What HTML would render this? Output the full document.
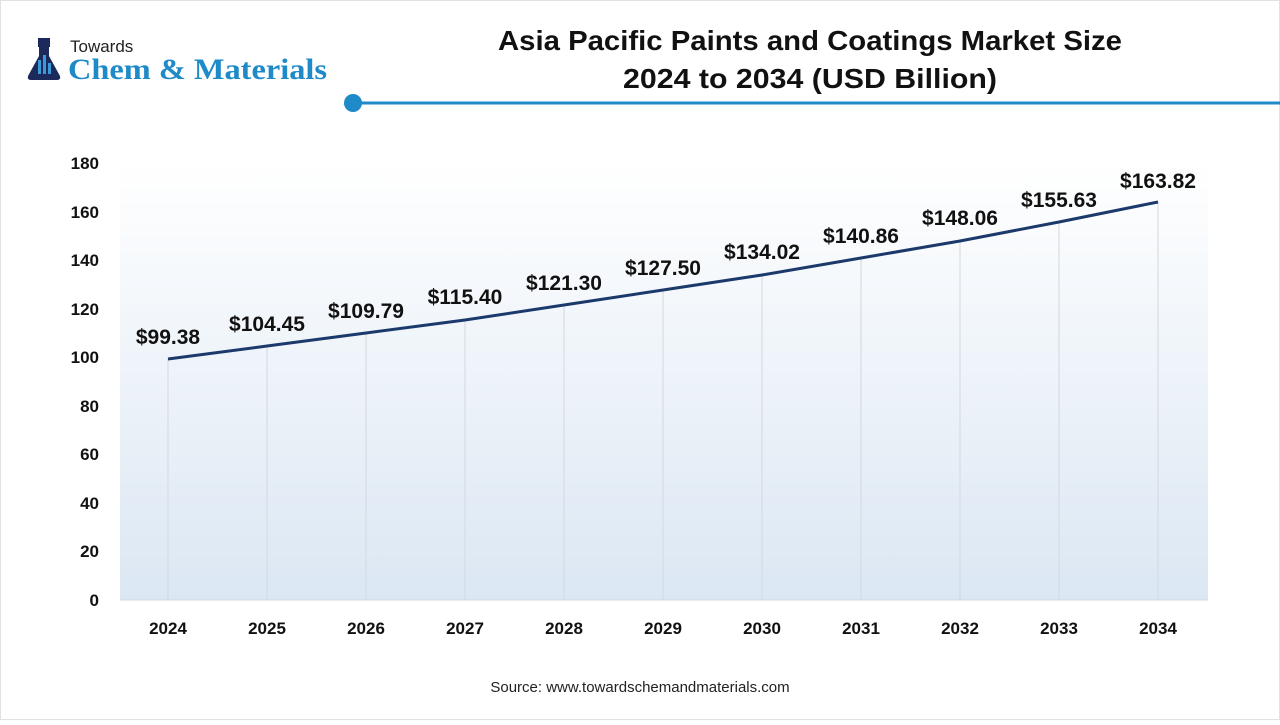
<!DOCTYPE html>
<html><head><meta charset="utf-8"><style>
html,body{margin:0;padding:0;background:#fff;}
body{width:1280px;height:720px;overflow:hidden;font-family:"Liberation Sans",sans-serif;}
</style></head><body>
<svg width="1280" height="720" viewBox="0 0 1280 720" xmlns="http://www.w3.org/2000/svg" font-family="Liberation Sans, sans-serif">
<defs>
<linearGradient id="bg" x1="0" y1="0" x2="0" y2="1">
<stop offset="0" stop-color="#ffffff"/>
<stop offset="1" stop-color="#dbe7f3"/>
</linearGradient>
</defs>
<rect x="0.5" y="0.5" width="1279" height="719" fill="#fff" stroke="#e2e2e2"/>
<g>
<rect x="38" y="38" width="12" height="9" fill="#1b2a5a"/>
<path d="M39 47 L49 47 L49 56 L60 76 Q61 80 57 80 L31 80 Q27 80 28 76 L39 56 Z" fill="#1b2a5a"/>
<rect x="38" y="60" width="3" height="14" fill="#3a9ad9"/>
<rect x="43" y="55" width="3" height="19" fill="#3a9ad9"/>
<rect x="48" y="63" width="3" height="11" fill="#3a9ad9"/>
<text x="70" y="52" font-size="17" fill="#222">Towards</text>
<text x="68" y="79" font-size="30" font-family="Liberation Serif, serif" font-weight="bold" fill="#1e8ac7" textLength="259" lengthAdjust="spacingAndGlyphs">Chem &amp; Materials</text>
</g>
<text x="810" y="50" font-size="28" font-weight="bold" text-anchor="middle" fill="#111" textLength="624" lengthAdjust="spacingAndGlyphs">Asia Pacific Paints and Coatings Market Size</text>
<text x="810" y="88" font-size="28" font-weight="bold" text-anchor="middle" fill="#111" textLength="374" lengthAdjust="spacingAndGlyphs">2024 to 2034 (USD Billion)</text>
<line x1="353" y1="103" x2="1280" y2="103" stroke="#1e8ac7" stroke-width="3"/>
<circle cx="353" cy="103" r="9" fill="#1e8ac7"/>
<rect x="120" y="160" width="1088" height="440" fill="url(#bg)"/>
<line x1="120" y1="600" x2="1208" y2="600" stroke="#cfd8e2" stroke-width="1"/>
<g font-size="17" font-weight="bold" fill="#111" text-anchor="end">
<text x="99" y="606">0</text><text x="99" y="557">20</text><text x="99" y="509">40</text>
<text x="99" y="460">60</text><text x="99" y="412">80</text><text x="99" y="363">100</text>
<text x="99" y="315">120</text><text x="99" y="266">140</text><text x="99" y="218">160</text>
<text x="99" y="169">180</text>
</g>
<g stroke="#d3d8de" stroke-width="1">
<line x1="168" y1="359" x2="168" y2="600"/><line x1="267" y1="346" x2="267" y2="600"/>
<line x1="366" y1="333" x2="366" y2="600"/><line x1="465" y1="320" x2="465" y2="600"/>
<line x1="564" y1="305" x2="564" y2="600"/><line x1="663" y1="290" x2="663" y2="600"/>
<line x1="762" y1="275" x2="762" y2="600"/><line x1="861" y1="258" x2="861" y2="600"/>
<line x1="960" y1="241" x2="960" y2="600"/><line x1="1059" y1="222" x2="1059" y2="600"/>
<line x1="1158" y1="202" x2="1158" y2="600"/>
</g>
<polyline fill="none" stroke="#1b3a6b" stroke-width="3" points="168,359 267,346 366,333 465,320 564,305 663,290 762,275 861,258 960,241 1059,222 1158,202"/>
<g font-size="21" font-weight="bold" fill="#111" text-anchor="middle">
<text x="168" y="344">$99.38</text><text x="267" y="331">$104.45</text>
<text x="366" y="318">$109.79</text><text x="465" y="304">$115.40</text>
<text x="564" y="290">$121.30</text><text x="663" y="275">$127.50</text>
<text x="762" y="259">$134.02</text><text x="861" y="243">$140.86</text>
<text x="960" y="225">$148.06</text><text x="1059" y="207">$155.63</text>
<text x="1158" y="188">$163.82</text>
</g>
<g font-size="17" font-weight="bold" fill="#111" text-anchor="middle">
<text x="168" y="634">2024</text><text x="267" y="634">2025</text><text x="366" y="634">2026</text>
<text x="465" y="634">2027</text><text x="564" y="634">2028</text><text x="663" y="634">2029</text>
<text x="762" y="634">2030</text><text x="861" y="634">2031</text><text x="960" y="634">2032</text>
<text x="1059" y="634">2033</text><text x="1158" y="634">2034</text>
</g>
<text x="640" y="692" font-size="15" text-anchor="middle" fill="#222">Source: www.towardschemandmaterials.com</text>
</svg>
</body></html>
